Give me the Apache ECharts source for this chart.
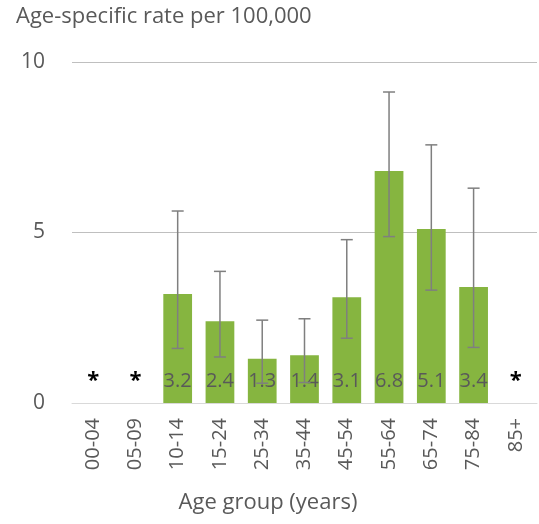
<!DOCTYPE html>
<html>
<head>
<meta charset="utf-8">
<script src="https://cdn.jsdelivr.net/npm/echarts@6/dist/echarts.min.js"></script>
<style>
  html, body { margin: 0; padding: 0; background: #fff; }
  #chart { width: 539px; height: 524px; }
</style>
</head>
<body>
<div id="chart"></div>
<script>
// Age groups and age-specific rates per 100,000 (null = suppressed, shown as *)
const categories = ['00-04', '05-09', '10-14', '15-24', '25-34', '35-44', '45-54', '55-64', '65-74', '75-84', '85+'];
const rates      = [null, null, 3.2, 2.4, 1.3, 1.4, 3.1, 6.8, 5.1, 3.4, null];
const ciLower    = [null, null, 1.6, 1.35, 0.58, 0.6, 1.9, 4.88, 3.31, 1.63, null];
const ciUpper    = [null, null, 5.63, 3.86, 2.43, 2.47, 4.79, 9.12, 7.57, 6.3, null];
const yTicks     = [0, 5, 10];

const FONT = 'Open Sans';
const TEXT = '#595959';

const barData = rates.map(v => v === null
  ? { value: 0, itemStyle: { color: 'transparent' },
      label: { show: true, formatter: '*', position: 'top', distance: 11,
               color: '#000', fontSize: 22, fontWeight: 'bold' } }
  : v);

const errData = categories.map((c, i) => [i, ciLower[i], ciUpper[i]])
  .filter(d => d[1] !== null);

const chart = echarts.init(document.getElementById('chart'), null, { renderer: 'canvas' });
chart.setOption({
  animation: false,
  textStyle: { fontFamily: FONT },
  title: [
    { text: 'Age-specific rate per 100,000', left: 11, top: 1,
      textStyle: { fontFamily: FONT, fontSize: 22, fontWeight: 'normal', color: TEXT } },
    { text: 'Age group (years)', left: 263, top: 487, textAlign: 'center',
      textStyle: { fontFamily: FONT, fontSize: 22, fontWeight: 'normal', color: TEXT } }
  ],
  grid: { left: 72, right: 2, top: 62, bottom: 121, containLabel: false },
  xAxis: {
    type: 'category',
    data: categories,
    axisLine: { show: true, lineStyle: { color: '#d9d9d9', width: 1 } },
    axisTick: { show: false },
    axisLabel: { rotate: 90, margin: 15, color: TEXT, fontSize: 20, fontFamily: FONT }
  },
  yAxis: {
    type: 'value',
    min: yTicks[0], max: yTicks[yTicks.length - 1], interval: 5,
    axisLine: { show: false },
    axisTick: { show: false },
    axisLabel: { color: TEXT, fontSize: 21, margin: 27, fontFamily: FONT },
    splitLine: { lineStyle: { color: '#bfbfbf', width: 1 } }
  },
  series: [
    {
      type: 'bar',
      data: barData,
      barWidth: '68%',
      itemStyle: { color: '#86b540' },
      label: {
        show: true, position: 'insideBottom', distance: 12,
        color: TEXT, fontSize: 20, fontFamily: FONT,
        formatter: p => p.value ? p.value.toFixed(1) : ''
      },
      z: 2
    },
    {
      type: 'custom',
      data: errData,
      z: 3,
      renderItem: (params, api) => {
        const x = api.value(0);
        const lo = api.coord([x, api.value(1)]);
        const hi = api.coord([x, api.value(2)]);
        const half = 6;
        const style = { stroke: '#7f7f7f', lineWidth: 1.5 };
        return {
          type: 'group',
          children: [
            { type: 'line', shape: { x1: lo[0], y1: lo[1], x2: hi[0], y2: hi[1] }, style },
            { type: 'line', shape: { x1: hi[0] - half, y1: hi[1], x2: hi[0] + half, y2: hi[1] }, style },
            { type: 'line', shape: { x1: lo[0] - half, y1: lo[1], x2: lo[0] + half, y2: lo[1] }, style }
          ]
        };
      }
    }
  ]
});
</script>
</body>
</html>
